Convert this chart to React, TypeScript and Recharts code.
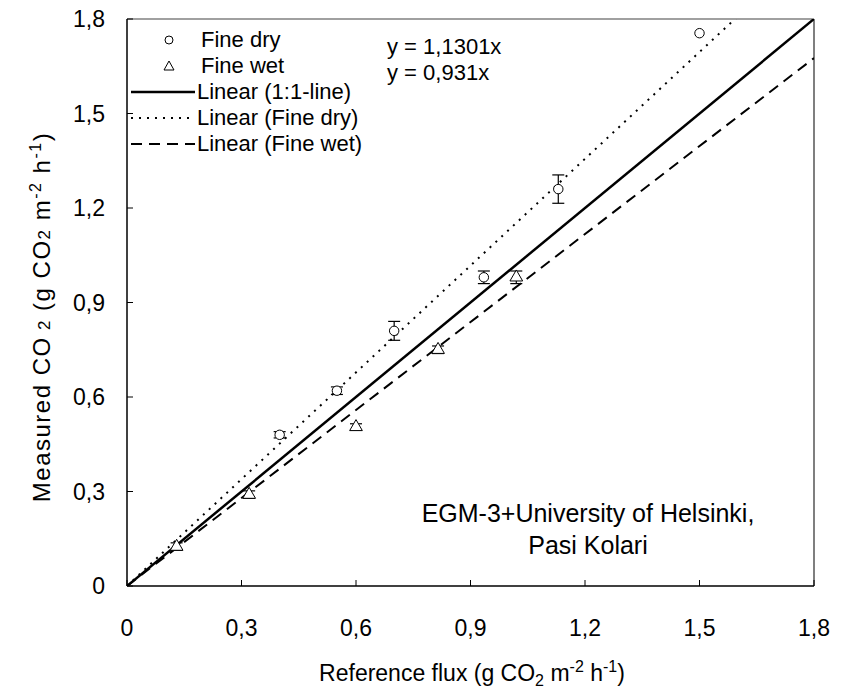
import {
  ComposedChart,
  ErrorBar,
  Legend,
  Line,
  ReferenceLine,
  Scatter,
  XAxis,
  YAxis,
  ZAxis,
} from "recharts";

// reference flux (x) vs measured flux (y), g CO2 m-2 h-1
const dryFlux = [0.4, 0.55, 0.7, 0.935, 1.13, 1.5];
const dryMeasured = [0.48, 0.62, 0.81, 0.98, 1.26, 1.755];
const dryError = [0.01, 0.012, 0.03, 0.02, 0.045, 0];

const wetFlux = [0.13, 0.32, 0.6, 0.815, 1.02];
const wetMeasured = [0.125, 0.29, 0.505, 0.75, 0.98];
const wetError = [0.012, 0.012, 0.01, 0.012, 0.02];

const axisTicks = [0, 0.3, 0.6, 0.9, 1.2, 1.5, 1.8];

// trendline slopes from the fitted equations
const oneToOneSlope = 1;
const drySlope = 1.1301;
const wetSlope = 0.931;
const fitRange = [0, 1.8];

const dryData = dryFlux.map((x, i) => ({ x, y: dryMeasured[i], err: dryError[i] }));
const wetData = wetFlux.map((x, i) => ({ x, y: wetMeasured[i], err: wetError[i] }));
const fitLine = (k: number) => fitRange.map((x) => ({ x, y: k * x }));

const FONT = '"Liberation Sans", Arial, sans-serif';
const comma = (v: number) => String(v).replace(".", ",");

const legendRows = [
  { name: "Fine dry", kind: "circle" },
  { name: "Fine wet", kind: "triangle" },
  { name: "Linear (1:1-line)", kind: "solid" },
  { name: "Linear (Fine dry)", kind: "dotted" },
  { name: "Linear (Fine wet)", kind: "dashed" },
];

function LegendBox() {
  return (
    <div style={{ fontFamily: FONT, fontSize: 22, color: "#000" }}>
      {legendRows.map((r) => (
        <div key={r.name} style={{ display: "flex", alignItems: "center", height: 26 }}>
          <svg width={68} height={26} style={{ display: "block" }}>
            {r.kind === "circle" && <circle cx={40} cy={13} r={4} fill="#fff" stroke="#000" strokeWidth={1} />}
            {r.kind === "triangle" && (
              <polygon points="40,8 45,17 35,17" fill="#fff" stroke="#000" strokeWidth={1} />
            )}
            {r.kind === "solid" && <line x1={2} x2={66} y1={13} y2={13} stroke="#000" strokeWidth={2.5} />}
            {r.kind === "dotted" && (
              <line x1={2} x2={66} y1={13} y2={13} stroke="#000" strokeWidth={2} strokeDasharray="2 6" />
            )}
            {r.kind === "dashed" && (
              <line x1={2} x2={66} y1={13} y2={13} stroke="#000" strokeWidth={2} strokeDasharray="11 7" />
            )}
          </svg>
          <span style={{ marginLeft: r.kind === "circle" || r.kind === "triangle" ? 4 : 0 }}>{r.name}</span>
        </div>
      ))}
    </div>
  );
}

const textStyle = {
  position: "absolute" as const,
  fontFamily: FONT,
  fontSize: 22,
  color: "#000",
  whiteSpace: "nowrap" as const,
  lineHeight: "24px",
};

export default function App() {
  return (
    <div style={{ position: "absolute", left: 0, top: 0, width: 843, height: 696, background: "#fff" }}>
      <ComposedChart
        width={843}
        height={696}
        margin={{ top: 19, right: 29, bottom: 50, left: 67 }}
        style={{ fontFamily: FONT }}
      >
        <XAxis
          type="number"
          dataKey="x"
          domain={[0, 1.8]}
          ticks={axisTicks}
          tickFormatter={comma}
          allowDataOverflow
          height={60}
          tickSize={-6}
          tickMargin={40}
          tick={{ fontSize: 23, fill: "#000" }}
          axisLine={{ stroke: "#000", strokeWidth: 1.5 }}
          tickLine={{ stroke: "#000" }}
        />
        <YAxis
          type="number"
          dataKey="y"
          domain={[0, 1.8]}
          ticks={axisTicks}
          tickFormatter={comma}
          allowDataOverflow
          width={60}
          tickSize={-6}
          tickMargin={28}
          tick={{ fontSize: 23, fill: "#000" }}
          axisLine={{ stroke: "#000", strokeWidth: 1.5 }}
          tickLine={{ stroke: "#000" }}
        />
        <ZAxis range={[70, 70]} />
        <ReferenceLine y={1.8} stroke="#808080" strokeWidth={1.5} />
        <ReferenceLine x={1.8} stroke="#555" strokeWidth={1.5} />

        <Line
          data={fitLine(oneToOneSlope)}
          dataKey="y"
          type="linear"
          stroke="#000"
          strokeWidth={2.5}
          dot={false}
          isAnimationActive={false}
        />
        <Line
          data={fitLine(drySlope)}
          dataKey="y"
          type="linear"
          stroke="#000"
          strokeWidth={2}
          strokeDasharray="2 6"
          dot={false}
          isAnimationActive={false}
        />
        <Line
          data={fitLine(wetSlope)}
          dataKey="y"
          type="linear"
          stroke="#000"
          strokeWidth={2}
          strokeDasharray="11 7"
          dot={false}
          isAnimationActive={false}
        />

        <Scatter data={dryData} shape="circle" fill="#fff" stroke="#000" strokeWidth={1} isAnimationActive={false}>
          <ErrorBar dataKey="err" direction="y" width={6} stroke="#000" strokeWidth={1.2} />
        </Scatter>
        <Scatter data={wetData} shape="triangle" fill="#fff" stroke="#000" strokeWidth={1} isAnimationActive={false}>
          <ErrorBar dataKey="err" direction="y" width={6} stroke="#000" strokeWidth={1.2} />
        </Scatter>

        <Legend
          layout="horizontal"
          verticalAlign="middle"
          content={() => <LegendBox />}
          wrapperStyle={{ left: 129, top: 27, width: "auto", height: "auto" }}
        />
      </ComposedChart>

      <div style={{ ...textStyle, left: 387, top: 35 }}>y = 1,1301x</div>
      <div style={{ ...textStyle, left: 387, top: 61 }}>y = 0,931x</div>

      <div
        style={{
          ...textStyle,
          fontSize: 25,
          left: 588,
          top: 497,
          transform: "translateX(-50%)",
          textAlign: "center",
          lineHeight: "32px",
        }}
      >
        EGM-3+University of Helsinki,
        <br />
        Pasi Kolari
      </div>

      <div style={{ ...textStyle, fontSize: 23, left: 472, top: 655, transform: "translateX(-50%)" }}>
        Reference flux (g CO<sub style={{ fontSize: 16 }}>2</sub> m<sup style={{ fontSize: 16 }}>-2</sup> h
        <sup style={{ fontSize: 16 }}>-1</sup>)
      </div>

      <div
        style={{
          ...textStyle,
          fontSize: 24,
          letterSpacing: 1.5,
          left: 40,
          top: 317,
          transform: "translate(-50%, -50%) rotate(-90deg)",
        }}
      >
        Measured CO<span style={{ fontSize: 17 }}>&nbsp;2</span> (g CO<span style={{ fontSize: 17 }}>2</span> m
        <sup style={{ fontSize: 16 }}>-2</sup> h<sup style={{ fontSize: 16 }}>-1</sup>)
      </div>
    </div>
  );
}
